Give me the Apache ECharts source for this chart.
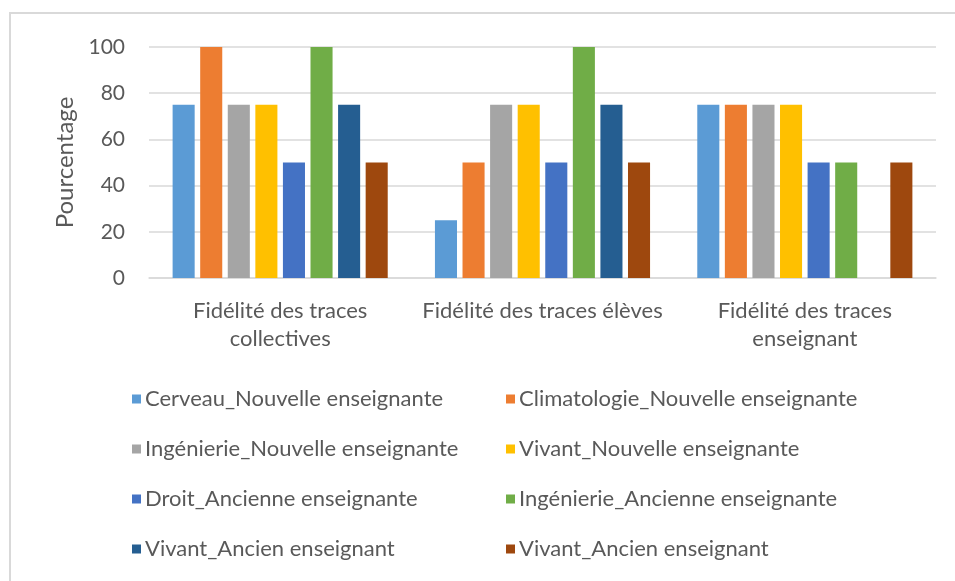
<!DOCTYPE html>
<html>
<head>
<meta charset="utf-8">
<script src="https://cdn.jsdelivr.net/npm/echarts@6/dist/echarts.min.js"></script>
<style>
  html, body { margin: 0; padding: 0; background: #fff; }
  #chart { width: 955px; height: 581px; }
</style>
</head>
<body>
<div id="chart"></div>
<script>
var categories = ['Fidélité des traces\ncollectives', 'Fidélité des traces élèves', 'Fidélité des traces\nenseignant'];
var seriesNames = [
    'Cerveau_Nouvelle enseignante',
    'Climatologie_Nouvelle enseignante',
    'Ingénierie_Nouvelle enseignante',
    'Vivant_Nouvelle enseignante',
    'Droit_Ancienne enseignante',
    'Ingénierie_Ancienne enseignante',
    'Vivant_Ancien enseignant',
    'Vivant_Ancien enseignant '
];
var colors = ['#5B9BD5', '#ED7D31', '#A5A5A5', '#FFC000', '#4472C4', '#70AD47', '#255E91', '#9E480E'];
var cerveauNouvelle = [75, 25, 75];
var climatoNouvelle = [100, 50, 75];
var ingeNouvelle = [75, 75, 75];
var vivantNouvelle = [75, 75, 75];
var droitAncienne = [50, 50, 50];
var ingeAncienne = [100, 100, 50];
var vivantAncien1 = [75, 75, 0];
var vivantAncien2 = [50, 50, 50];
var seriesValues = [cerveauNouvelle, climatoNouvelle, ingeNouvelle, vivantNouvelle,
    droitAncienne, ingeAncienne, vivantAncien1, vivantAncien2];
var yTicks = [0, 20, 40, 60, 80, 100];

var font = 'Lato, "Open Sans", sans-serif';
var chart = echarts.init(document.getElementById('chart'));

var series = seriesNames.map(function (name, i) {
    return {
        name: name,
        type: 'bar',
        data: seriesValues[i],
        barGap: '25%',
        barCategoryGap: '18%',
        itemStyle: { color: colors[i] }
    };
});

var legendBase = {
    orient: 'vertical',
    icon: 'rect',
    itemWidth: 9,
    itemHeight: 9,
    itemGap: 28,
    top: 383,
    textStyle: { color: '#595959', fontSize: 22, fontFamily: font, lineHeight: 22, padding: [0, 0, 0, -1] }
};

var option = {
    animation: false,
    color: colors,
    graphic: [{
        type: 'rect',
        shape: { x: 10, y: 13, width: 960, height: 600 },
        style: { fill: 'none', stroke: '#d9d9d9', lineWidth: 2 }
    }],
    grid: { left: 149, right: 19, top: 47, height: 231 },
    legend: [
        Object.assign({}, legendBase, { left: 127, data: [seriesNames[0], seriesNames[2], seriesNames[4], seriesNames[6]] }),
        Object.assign({}, legendBase, { left: 501, data: [seriesNames[1], seriesNames[3], seriesNames[5], seriesNames[7]] })
    ],
    xAxis: {
        type: 'category',
        data: categories,
        axisLine: { lineStyle: { color: '#d9d9d9', width: 1.5 } },
        axisTick: { show: false },
        axisLabel: { color: '#595959', fontSize: 22, fontFamily: font, lineHeight: 28, margin: 19, interval: 0 }
    },
    yAxis: {
        type: 'value',
        min: 0,
        max: 100,
        interval: 20,
        name: 'Pourcentage',
        nameLocation: 'middle',
        nameGap: 72,
        nameTextStyle: { color: '#595959', fontSize: 24, fontFamily: font },
        axisLine: { show: false },
        axisTick: { show: false },
        axisLabel: {
            color: '#595959', fontSize: 21, fontFamily: font, margin: 24,
            formatter: function (v) { return yTicks.indexOf(v) >= 0 ? String(v) : ''; }
        },
        splitLine: { lineStyle: { color: '#d9d9d9', width: 1.5 } }
    },
    series: series
};
chart.setOption(option);
</script>
</body>
</html>
